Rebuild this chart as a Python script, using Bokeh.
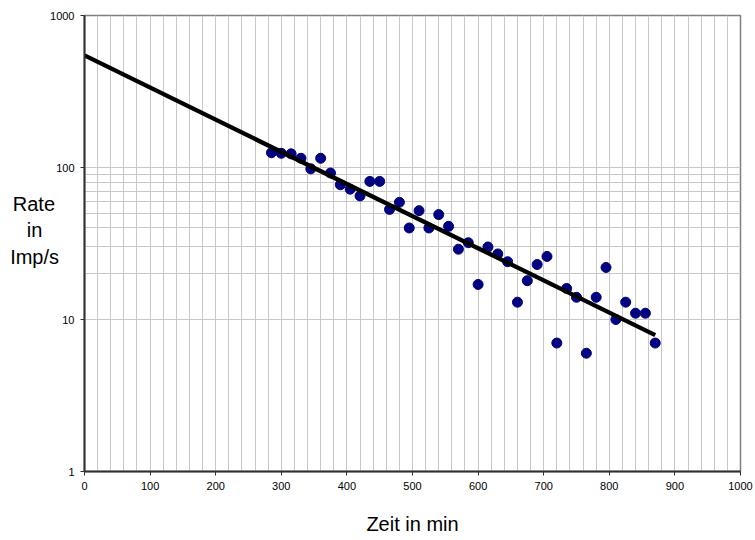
from bokeh.plotting import figure
from bokeh.models import FixedTicker, CustomJSTickFormatter
from bokeh.embed import file_html
from bokeh.resources import INLINE

# Data
zeit_min = [285, 300, 315, 330, 345, 360, 375, 390, 405, 420,
            435, 450, 465, 480, 495, 510, 525, 540, 555, 570,
            585, 600, 615, 630, 645, 660, 675, 690, 705, 720,
            735, 750, 765, 780, 795, 810, 825, 840, 855, 870]
rate_imp_s = [125, 124, 123, 115, 98, 115, 92, 77, 72, 65,
              81, 81, 53, 59, 40, 52, 40, 49, 41, 29,
              32, 17, 30, 27, 24, 13, 18, 23, 26, 7,
              16, 14, 6, 14, 22, 10, 13, 11, 11, 7]
# exponential trend line (end points)
trend_x = [0, 870]
trend_y = [546, 7.9]

x_ticks = list(range(0, 1001, 100))
x_minor = list(range(0, 1001, 20))
y_ticks = [1, 10, 100, 1000]
y_minor = [20, 30, 40, 50, 60, 70, 80, 90]

FONT = "Liberation Sans"

p = figure(width=755, height=540, output_backend="svg", toolbar_location=None,
           x_range=(0, 1000), y_range=(1, 1000), y_axis_type="log",
           min_border_left=84, min_border_right=15, min_border_top=15,
           min_border_bottom=69)

p.background_fill_color = "white"
p.border_fill_color = "white"
p.outline_line_color = "#808080"
p.outline_line_width = 1.5

p.xaxis.ticker = FixedTicker(ticks=x_ticks, minor_ticks=x_minor)
p.yaxis.ticker = FixedTicker(ticks=y_ticks, minor_ticks=y_minor)

for g in (p.xgrid, p.ygrid):
    g.grid_line_color = "#c8c8c8"
    g.grid_line_width = 1
    g.minor_grid_line_color = "#c8c8c8"
    g.minor_grid_line_width = 1

for ax in (p.xaxis, p.yaxis):
    ax.axis_line_color = "#303030"
    ax.axis_line_width = 2
    ax.major_tick_line_color = "#303030"
    ax.major_tick_in = 0
    ax.major_tick_out = 4
    ax.minor_tick_line_color = None
    ax.major_label_text_font = FONT
    ax.major_label_text_font_size = "11px"
    ax.major_label_text_color = "black"
    ax.major_label_standoff = 6
    ax.axis_label_text_font = FONT
    ax.axis_label_text_font_size = "20px"
    ax.axis_label_text_font_style = "normal"
    ax.axis_label_text_color = "black"

p.yaxis.formatter = CustomJSTickFormatter(code="return tick.toFixed(0);")

p.xaxis.axis_label = "Zeit in min"
p.xaxis.axis_label_standoff = 20

yax = p.yaxis[0]
# lines padded so that they appear centred under right alignment
yax.axis_label = "Rate\u2009\nin\u00a0\u00a0\u00a0\nImp/s\n\u00a0"
yax.axis_label_standoff = -12
yax.axis_label_text_line_height = 1.2
if "axis_label_orientation" in yax.properties():
    yax.axis_label_orientation = "horizontal"

p.scatter(zeit_min, rate_imp_s, size=10, marker="circle",
          fill_color="#000080", line_color="#000080")
p.line(trend_x, trend_y, line_color="black", line_width=4.3)

open("out.html", "w").write(file_html(p, INLINE))
